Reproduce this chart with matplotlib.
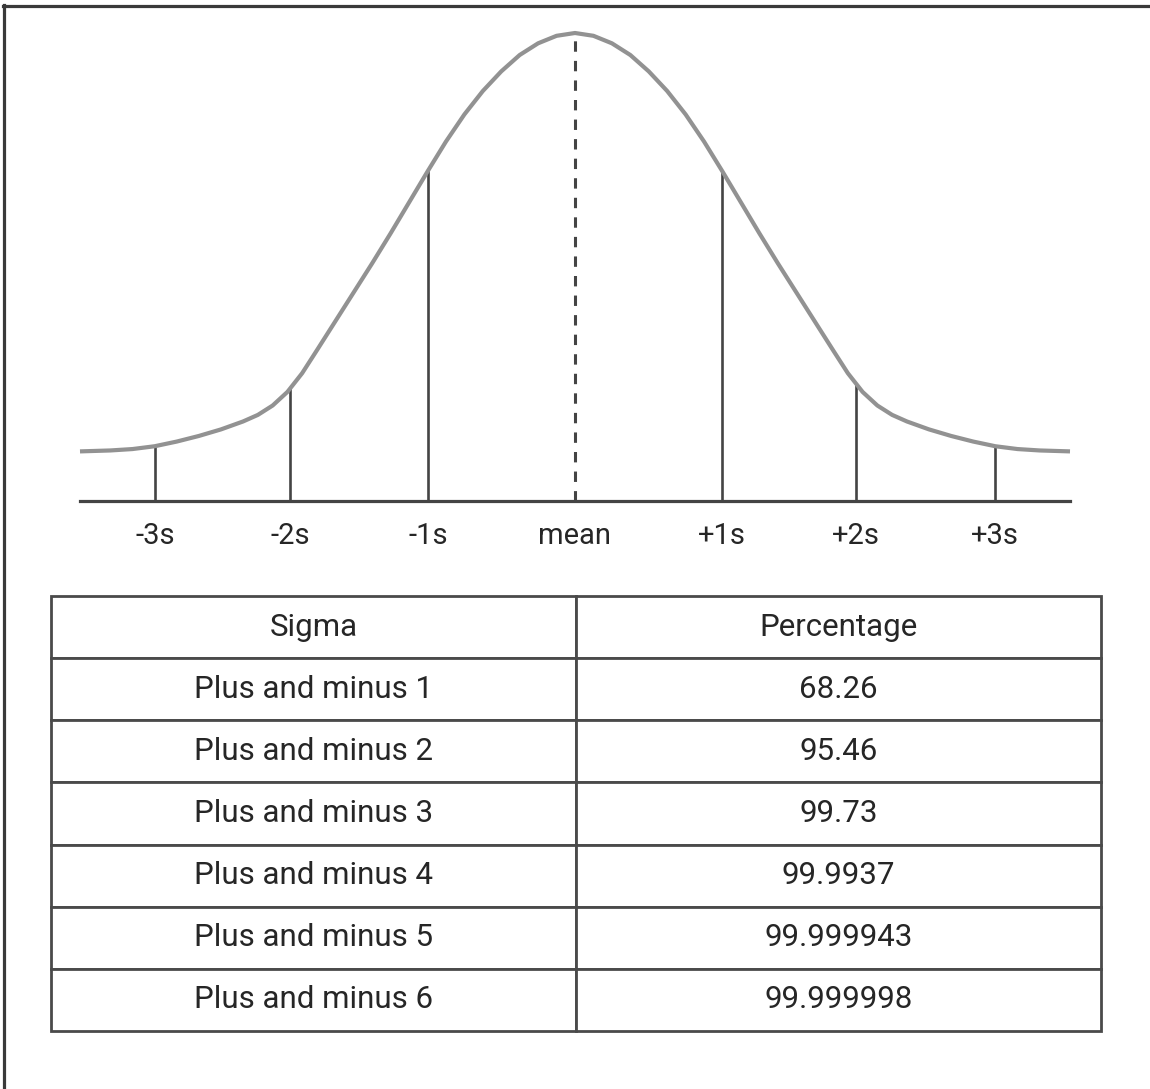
import numpy as np
import matplotlib
matplotlib.use("Agg")
import matplotlib.pyplot as plt
from matplotlib.lines import Line2D

plt.rcParams['font.family'] = ['Roboto', 'DejaVu Sans']

# ---- data ----
# right half of the bell curve: position in sigma units, relative height (peak = 1)
half_x = [0.0, 0.125, 0.25, 0.375, 0.5, 0.625, 0.75, 0.875, 1.0, 1.125, 1.25,
          1.375, 1.5, 1.625, 1.75, 1.85, 1.95, 2.05, 2.15, 2.25, 2.4, 2.55,
          2.7, 2.85, 3.0, 3.15, 3.356]
half_y = [1.000, 0.994, 0.978, 0.953, 0.918, 0.876, 0.826, 0.768, 0.704, 0.638,
          0.572, 0.508, 0.446, 0.384, 0.322, 0.273, 0.233, 0.204, 0.184, 0.170,
          0.153, 0.139, 0.127, 0.117, 0.111, 0.108, 0.106]

tick_pos = [-2.847, -1.932, -0.997, 0.0, 0.999, 1.905, 2.847]
tick_labels = ['-3s', '-2s', '-1s', 'mean', '+1s', '+2s', '+3s']

table_header = ['Sigma', 'Percentage']
sigma_rows = ['Plus and minus 1', 'Plus and minus 2', 'Plus and minus 3',
              'Plus and minus 4', 'Plus and minus 5', 'Plus and minus 6']
percentages = ['68.26', '95.46', '99.73', '99.9937', '99.999943', '99.999998']

curve_x = [-v for v in half_x[::-1]] + half_x[1:]
curve_y = half_y[::-1] + half_y[1:]

# ---- figure ----
W, H = 1150, 1089
fig = plt.figure(figsize=(W / 100, H / 100), dpi=100)
fig.patch.set_facecolor('white')

text_color = '#262626'
line_color = '#444444'

ax = fig.add_axes([80 / W, 1 - 501 / H, 990 / W, 468 / H])
ax.set_xlim(curve_x[0], curve_x[-1])
ax.set_ylim(0, 1)
ax.patch.set_alpha(0)
for s in ['top', 'left', 'right']:
    ax.spines[s].set_visible(False)
ax.spines['bottom'].set_color(line_color)
ax.spines['bottom'].set_linewidth(2.3)
ax.set_yticks([])

ax.plot(curve_x, curve_y, color='#929292', lw=3.0, solid_capstyle='butt',
        solid_joinstyle='round', clip_on=False, zorder=3)

for p, lab in zip(tick_pos, tick_labels):
    top = np.interp(p, curve_x, curve_y)
    if lab == 'mean':
        ax.plot([p, p], [0, top], color=line_color, lw=2.2,
                ls=(0, (3.4, 3.0)), clip_on=False, zorder=2)
    else:
        ax.plot([p, p], [0, top], color=line_color, lw=1.9,
                clip_on=False, zorder=2)

ax.set_xticks(tick_pos)
ax.set_xticklabels(tick_labels, fontsize=21, color=text_color)
ax.tick_params(axis='x', length=0, pad=15)

# table
tax = fig.add_axes([51 / W, 1 - 1031 / H, 1050 / W, 435 / H])
tax.axis('off')
cell_text = [[s, p] for s, p in zip(sigma_rows, percentages)]
tbl = tax.table(cellText=cell_text, colLabels=table_header,
                cellLoc='center', bbox=[0, 0, 1, 1])
tbl.auto_set_font_size(False)
for (r, c), cell in tbl.get_celld().items():
    cell.set_edgecolor('#4a4a4a')
    cell.set_linewidth(2.0)
    cell.set_facecolor('white')
    cell.get_text().set_fontsize(22.5)
    cell.get_text().set_color(text_color)

# frame lines at the top and left of the image
fig.add_artist(Line2D([3 / W, 1], [1 - 6 / H, 1 - 6 / H], transform=fig.transFigure,
                      color='#3a3a3a', lw=2.3))
fig.add_artist(Line2D([4 / W, 4 / W], [0, 1 - 5 / H], transform=fig.transFigure,
                      color='#3a3a3a', lw=2.3))

fig.savefig('out.png', dpi=100, facecolor='white')
